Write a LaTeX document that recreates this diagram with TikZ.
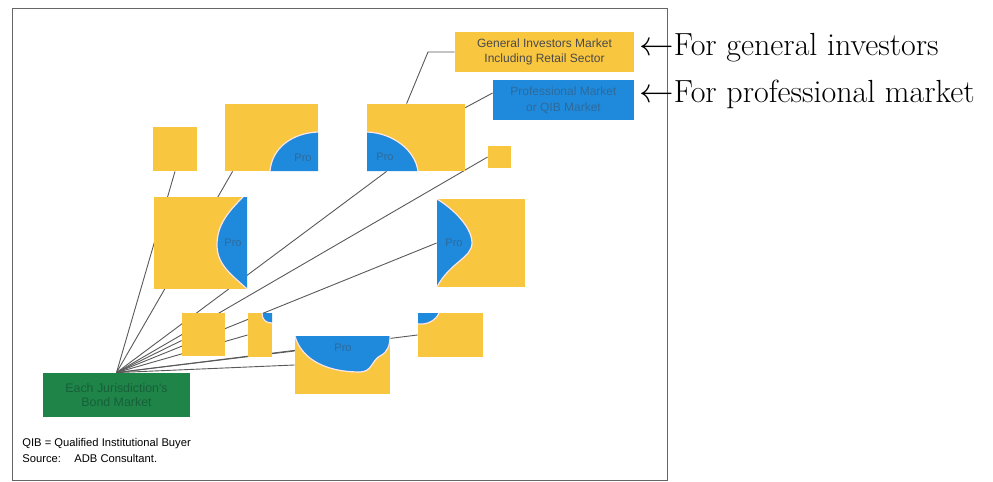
\documentclass[tikz,border=0pt]{standalone}
\usepackage{fontspec}
\newfontfamily\adbfont{Liberation Sans}
\usepackage{tikz}
\usetikzlibrary{fit,backgrounds}
\definecolor{gold}{HTML}{F9C63F}
\definecolor{problue}{HTML}{1F8ADB}
\definecolor{protext}{HTML}{2E6A9C}
\definecolor{bondgreen}{HTML}{1E8447}
\definecolor{bondtext}{HTML}{17603A}
\definecolor{muted}{HTML}{4A4A4A}
\tikzset{
  market/.style={fill=gold,inner sep=0pt},
  genbox/.style={fill=gold,inner sep=0pt,align=center,text=muted,
    minimum width=89.5pt,minimum height=20pt,font=\adbfont\fontsize{6}{7.8}\selectfont},
  qibbox/.style={fill=problue,inner sep=0pt,align=center,text=protext,
    minimum width=70.5pt,minimum height=20pt,font=\adbfont\fontsize{6}{7.8}\selectfont},
  bondbox/.style={fill=bondgreen,inner sep=0pt,align=center,text=bondtext,
    minimum width=73.5pt,minimum height=22pt,font=\adbfont\fontsize{6.2}{6.6}\selectfont},
  problob/.style={fill=problue},
  proedge/.style={draw=white!90!red,line width=0.6pt},
  prolabel/.style={text=protext,inner sep=0pt,font=\adbfont\fontsize{5.5}{6}\selectfont},
  link/.style={draw=black!65,line width=0.45pt},
  frame/.style={draw=black!60,line width=0.5pt},
  note/.style={inner sep=0pt,align=left,font=\adbfont\fontsize{5.6}{8}\selectfont},
  sidenote/.style={anchor=base west,inner sep=0pt,font=\fontsize{16}{19}\selectfont}
}

\begin{document}
\begin{tikzpicture}[x=0.5pt,y=-0.5pt]
  \useasboundingbox (0,0) rectangle (993,482);

  % market boxes
  \node[market,fit={(153,127) (197,171)}] (sqA) {};
  \node[market,fit={(225,104) (318,171)}] (boxB) {};
  \node[market,fit={(367,104) (465,171)}] (boxC) {};
  \node[market,fit={(488,146) (511,168)}] (sqD) {};
  \node[market,fit={(154,197) (247,289)}] (boxE) {};
  \node[market,fit={(437,199) (525,287)}] (boxF) {};
  \node[market,fit={(182,313) (225,356)}] (sqG) {};
  \node[market,fit={(248,313) (272,357)}] (nbx) {};
  \node[market,fit={(295,336) (390,394)}] (boxH) {};
  \node[market,fit={(418,313) (483,357)}] (boxJ) {};

  % professional parts
  \fill[problob] (318,132) .. controls (292,133) and (272,148) .. (270,171) -- (318,171) -- cycle;
  \draw[proedge] (318,132) .. controls (292,133) and (272,148) .. (270,171);
  \fill[problob] (367,132) .. controls (393,133) and (415,150) .. (418,171) -- (367,171) -- cycle;
  \draw[proedge] (367,132) .. controls (393,133) and (415,150) .. (418,171);
  \fill[problob] (243,197) .. controls (228,212) and (217,225) .. (217,245)
    .. controls (217,265) and (232,275) .. (247,289) -- (247,197) -- cycle;
  \draw[proedge] (243,197) .. controls (228,212) and (217,225) .. (217,245)
    .. controls (217,265) and (232,275) .. (247,289);
  \fill[problob] (437,199) .. controls (455,210) and (472,228) .. (472,243)
    .. controls (472,258) and (450,262) .. (437,287) -- cycle;
  \draw[proedge] (437,199) .. controls (455,210) and (472,228) .. (472,243)
    .. controls (472,258) and (450,262) .. (437,287);
  \fill[problob] (262,313) .. controls (262,320) and (266,323) .. (272,323) -- (272,313) -- cycle;
  \draw[proedge] (262,313) .. controls (262,320) and (266,323) .. (272,323);
  \fill[problob] (295,336) .. controls (300,355) and (320,372) .. (360,372)
    .. controls (372,372) and (372,360) .. (380,356)
    .. controls (388,352) and (390,345) .. (390,336) -- cycle;
  \draw[proedge] (295,336) .. controls (300,355) and (320,372) .. (360,372)
    .. controls (372,372) and (372,360) .. (380,356)
    .. controls (388,352) and (390,345) .. (390,336);
  \fill[problob] (418,324) .. controls (428,325) and (436,320) .. (439,313) -- (418,313) -- cycle;
  \draw[proedge] (418,324) .. controls (428,325) and (436,320) .. (439,313);

  \node[prolabel] (proB) at (303,158) {Pro};
  \node[prolabel] (proC) at (385,157) {Pro};
  \node[prolabel] (proE) at (233,243) {Pro};
  \node[prolabel] (proF) at (454,243) {Pro};
  \node[prolabel] (proH) at (343,348) {Pro};

  % legend and base
  \node[genbox] (genmkt) at (544.5,52) {General Investors Market\\Including Retail Sector};
  \node[qibbox] (qibmkt) at (563.5,100) {Professional Market\\or QIB Market};
  \node[bondbox] (bondmkt) at (116.5,395) {Each Jurisdiction's\\Bond Market};
  \coordinate (genbend) at (428,52);

  \node[note,anchor=north west] (srcnote) at (22,438)
    {QIB = Qualified Institutional Buyer\\Source:\hspace{6.7pt}ADB Consultant.};
  \node[sidenote] (genlbl) at (639,55) {$\leftarrow$For general investors};
  \node[sidenote] (qiblbl) at (639,102) {$\leftarrow$For professional market};

  \begin{scope}[on background layer]
    \draw[frame] (12,8) rectangle (667,480);
    \foreach \t in {sqA.south,sqD.west,boxF.west,nbx.west,boxJ.west,boxH.west}
      \draw[link] (bondmkt.north) -- (\t);
    \draw[link] (bondmkt.north) -- ([xshift=4pt]boxB.south west);
    \draw[link] (bondmkt.north) -- ([xshift=10pt]boxC.south west);
    \draw[link] (bondmkt.north) -- ([yshift=-3pt]sqG.west);
    \draw[link] (bondmkt.north) -- ([yshift=7pt]boxH.west);
    \draw[link] ([xshift=20pt]boxC.north west) -- (genbend) -- (genmkt.west);
    \draw[link] ([yshift=-2pt]boxC.north east) -- ([yshift=3.5pt]qibmkt.west);
  \end{scope}
\end{tikzpicture}
\end{document}
